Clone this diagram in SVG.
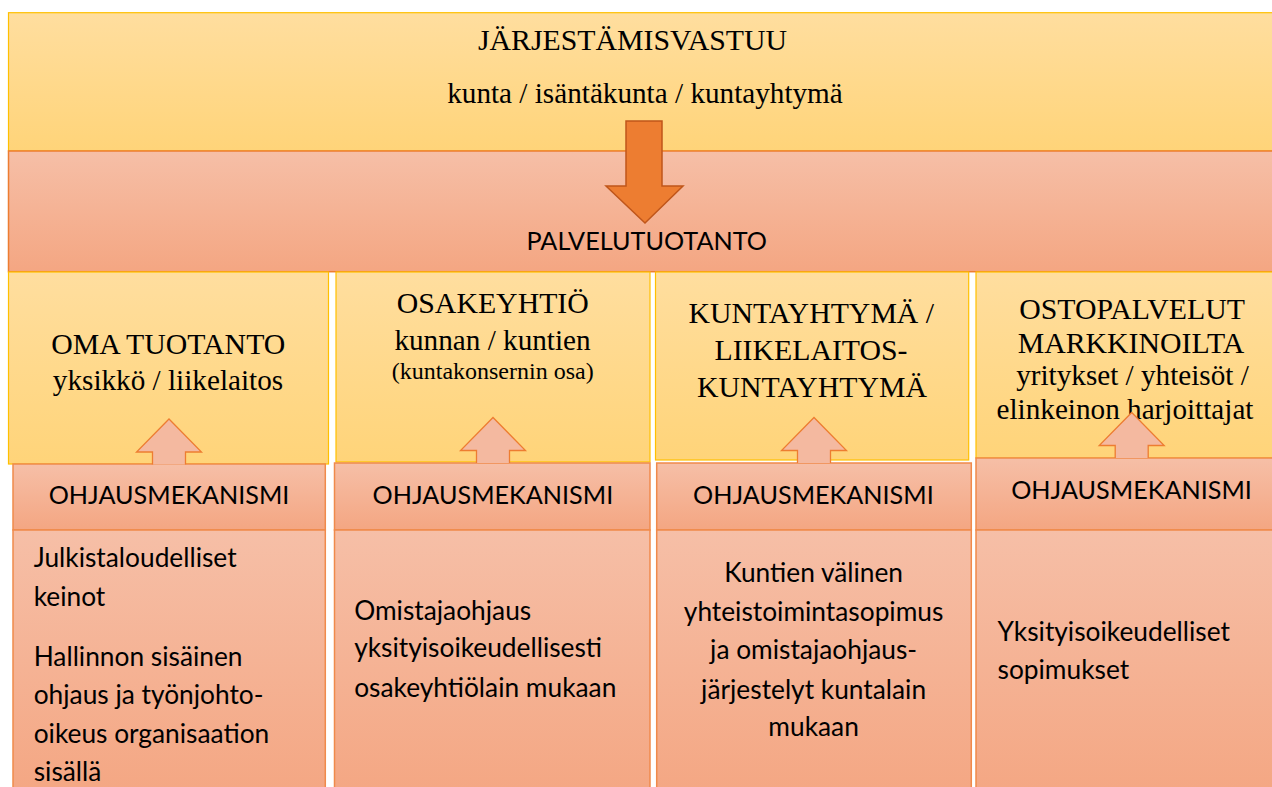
<svg xmlns="http://www.w3.org/2000/svg" xmlns:xlink="http://www.w3.org/1999/xlink" width="1272" height="787" viewBox="0 0 1272 787">
<style>
.serif{font-family:"Liberation Serif","Times New Roman",serif;fill:#000;font-size:29.2px}
.caps{font-size:29.8px}
.small{font-size:24px}
.sans{font-family:Lato,"Liberation Sans",sans-serif;fill:#000;font-size:26.3px}
.scaps{font-size:25.2px}
.mid{text-anchor:middle}
.ybox{fill:url(#yg);stroke:#FFC000;stroke-width:1.2}
.pbox{fill:url(#pg);stroke:#F08A4B;stroke-width:1.5}
.arrowFill{fill:#F4B9A0;stroke:none}
.arrowLine{fill:none;stroke:#ED7D31;stroke-width:1.3}
</style>
<defs>
<linearGradient id="yg" x1="0" y1="0" x2="0" y2="1">
<stop offset="0" stop-color="#FFDE9F"/>
<stop offset="1" stop-color="#FFD479"/>
</linearGradient>
<linearGradient id="pg" x1="0" y1="0" x2="0" y2="1">
<stop offset="0" stop-color="#F6BFA7"/>
<stop offset="1" stop-color="#F4A682"/>
</linearGradient>
<g id="uparrow">
<polygon class="arrowFill" points="0,0 32.5,33 16.5,33 16.5,45.5 -16.5,45.5 -16.5,33 -32.5,33"/>
<polyline class="arrowLine" points="-16.5,45.5 -16.5,33 -32.5,33 0,0 32.5,33 16.5,33 16.5,45.5"/>
</g>
</defs>
<rect width="1272" height="787" fill="#fff"/>

<g id="jarjestamisvastuu">
<rect class="ybox" x="8.5" y="12.7" width="1275" height="138.3"/>
<text class="serif caps mid" x="632.5" y="50">JÄRJESTÄMISVASTUU</text>
<text class="serif mid" x="645" y="103.3">kunta / isäntäkunta / kuntayhtymä</text>
</g>

<g id="palvelutuotanto">
<rect x="8.5" y="151" width="1275" height="120.7" fill="url(#pg)" stroke="#ED7D31" stroke-width="1.5"/>
<text class="sans scaps mid" x="646.7" y="250">PALVELUTUOTANTO</text>
</g>

<g id="oma-tuotanto">
<rect class="ybox" x="8.5" y="272" width="320" height="192"/>
<text class="serif caps mid" x="168.3" y="353.7">OMA TUOTANTO</text>
<text class="serif mid" x="168" y="390.3">yksikkö / liikelaitos</text>
</g>
<g id="osakeyhtio">
<rect class="ybox" x="336" y="272" width="314" height="190"/>
<text class="serif caps mid" x="492.8" y="312.7">OSAKEYHTIÖ</text>
<text class="serif mid" x="492.5" y="350.3">kunnan / kuntien</text>
<text class="serif small mid" x="492.7" y="379.3">(kuntakonsernin osa)</text>
</g>
<g id="kuntayhtyma">
<rect class="ybox" x="655.5" y="272" width="313.2" height="188"/>
<text class="serif caps mid" x="811.3" y="322.7">KUNTAYHTYMÄ /</text>
<text class="serif caps mid" x="811" y="359.7">LIIKELAITOS-</text>
<text class="serif caps mid" x="812" y="397">KUNTAYHTYMÄ</text>
</g>
<g id="ostopalvelut">
<rect class="ybox" x="976" y="272" width="310" height="186"/>
<text class="serif caps mid" x="1132" y="319.3">OSTOPALVELUT</text>
<text class="serif caps mid" x="1131" y="353">MARKKINOILTA</text>
<text class="serif mid" x="1132.5" y="385.3">yritykset / yhteisöt /</text>
<text class="serif mid" x="1125" y="418.7">elinkeinon harjoittajat</text>
</g>

<g id="ohjaus-1">
<rect class="pbox" x="13" y="464" width="312.3" height="66"/>
<text class="sans scaps mid" x="169" y="504">OHJAUSMEKANISMI</text>
</g>
<g id="ohjaus-2">
<rect class="pbox" x="334.5" y="463" width="315.5" height="67"/>
<text class="sans scaps mid" x="492.9" y="504">OHJAUSMEKANISMI</text>
</g>
<g id="ohjaus-3">
<rect class="pbox" x="656.7" y="463" width="314.6" height="67"/>
<text class="sans scaps mid" x="813.4" y="504">OHJAUSMEKANISMI</text>
</g>
<g id="ohjaus-4">
<rect class="pbox" x="976" y="458" width="310" height="72"/>
<text class="sans scaps mid" x="1131.5" y="499">OHJAUSMEKANISMI</text>
</g>

<g id="keino-1">
<rect class="pbox" x="13" y="530" width="312.3" height="270"/>
<text class="sans" x="33.7" y="567.3">Julkistaloudelliset</text>
<text class="sans" x="33.7" y="606.3">keinot</text>
<text class="sans" x="33.7" y="666.3">Hallinnon sisäinen</text>
<text class="sans" x="33.7" y="704">ohjaus ja työnjohto-</text>
<text class="sans" x="33.7" y="743.3">oikeus organisaation</text>
<text class="sans" x="33.7" y="780.7">sisällä</text>
</g>
<g id="keino-2">
<rect class="pbox" x="334.5" y="530" width="315.5" height="270"/>
<text class="sans" x="354.2" y="620">Omistajaohjaus</text>
<text class="sans" x="354.2" y="657.3">yksityisoikeudellisesti</text>
<text class="sans" x="354.2" y="696.7">osakeyhtiölain mukaan</text>
</g>
<g id="keino-3">
<rect class="pbox" x="656.7" y="530" width="314.6" height="270"/>
<text class="sans mid" x="813.6" y="582.3">Kuntien välinen</text>
<text class="sans mid" x="813.6" y="620.7">yhteistoimintasopimus</text>
<text class="sans mid" x="813.6" y="659">ja omistajaohjaus-</text>
<text class="sans mid" x="813.6" y="699">järjestelyt kuntalain</text>
<text class="sans mid" x="813.6" y="735.7">mukaan</text>
</g>
<g id="keino-4">
<rect class="pbox" x="976" y="530" width="310" height="270"/>
<text class="sans" x="997.5" y="640.7">Yksityisoikeudelliset</text>
<text class="sans" x="997.5" y="679">sopimukset</text>
</g>

<g id="connectors">
<polygon points="626,121 662,121 662,186 683,186 645,223 606,186 626,186" fill="#ED7D31" stroke="#C0561A" stroke-width="1.5" stroke-linejoin="miter"/>
<use xlink:href="#uparrow" x="169" y="419"/>
<use xlink:href="#uparrow" x="493" y="417.5"/>
<use xlink:href="#uparrow" x="814" y="417.5"/>
<use xlink:href="#uparrow" x="1131.7" y="412.5"/>
</g>
</svg>
